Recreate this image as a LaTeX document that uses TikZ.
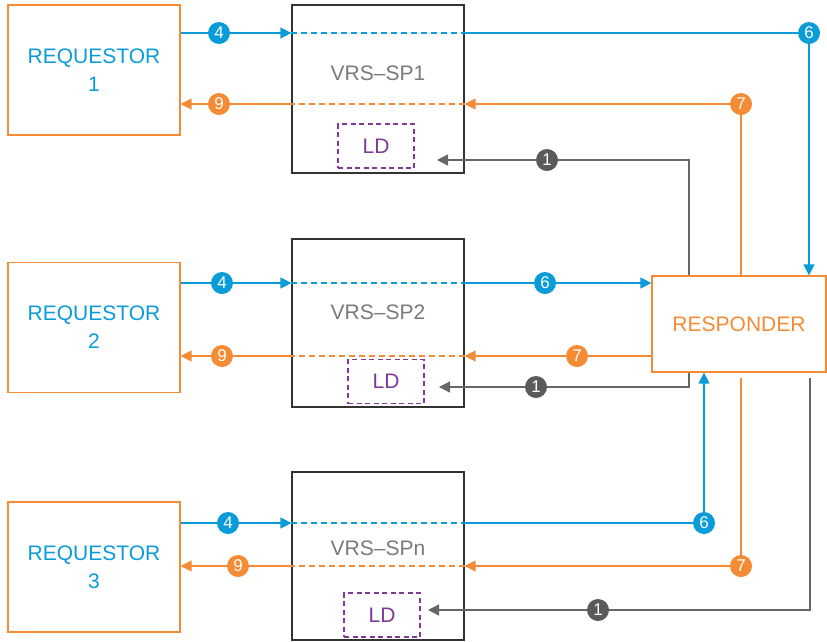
\documentclass[tikz,border=0pt]{standalone}
\usepackage{fontspec}
\setmainfont{Liberation Sans}
\usetikzlibrary{arrows.meta}
\definecolor{vblue}{HTML}{0A9BD9}
\definecolor{vorange}{HTML}{F58B34}
\definecolor{vgray}{HTML}{666666}
\definecolor{vdark}{HTML}{5A5A5A}
\definecolor{vpurple}{HTML}{7E3A96}
\definecolor{vtext}{HTML}{7A7A7A}
\tikzset{
  reqbox/.style={draw=vorange, line width=1.2pt, minimum width=172pt, minimum height=130pt,
    align=center, text=vblue, font=\fontsize{21}{28}\selectfont},
  spbox/.style={draw=black!80, line width=1.2pt, minimum width=172pt, minimum height=168pt},
  sptxt/.style={text=vtext, font=\fontsize{21}{24}\selectfont},
  ldbox/.style={draw=vpurple, line width=1.1pt, dash pattern=on 5pt off 3.5pt, minimum width=76pt,
    minimum height=44pt, text=vpurple, font=\fontsize{21}{24}\selectfont},
  respbox/.style={draw=vorange, line width=1.2pt, minimum width=174pt, minimum height=96pt,
    text=vorange, font=\fontsize{21}{26}\selectfont},
  num/.style={circle, minimum size=22pt, inner sep=0pt, text=white, font=\fontsize{17}{17}\selectfont},
  bnum/.style={num, fill=vblue},
  onum/.style={num, fill=vorange},
  gnum/.style={num, fill=vdark},
  bl/.style={draw=vblue, line width=1.3pt},
  ol/.style={draw=vorange, line width=1.3pt},
  gl/.style={draw=vgray, line width=1.3pt},
  dsh/.style={dash pattern=on 6pt off 4pt},
  tip/.style={-{Triangle[length=11pt,width=11pt]}}
}
\begin{document}
\begin{tikzpicture}[x=1pt, y=-1pt]
  \useasboundingbox (0,0) rectangle (827,641);
  \node[reqbox] (req1) at (94,70) {REQUESTOR\\1};
  \node[reqbox] (req2) at (94,327.5) {REQUESTOR\\2};
  \node[reqbox] (req3) at (94,567) {REQUESTOR\\3};
  \node[spbox] (sp1) at (378,89) {};
  \node[spbox] (sp2) at (378,323) {};
  \node[spbox] (sp3) at (378,556) {};
  \node[sptxt] (spt1) at (378,73) {VRS–SP1};
  \node[sptxt] (spt2) at (378,312) {VRS–SP2};
  \node[sptxt] (spt3) at (378,548) {VRS–SPn};
  \node[ldbox] (ld1) at (376,146) {LD};
  \node[ldbox] (ld2) at (386,381.5) {LD};
  \node[ldbox] (ld3) at (382,615) {LD};
  \node[respbox] (resp) at (739,324) {RESPONDER};
  \coordinate (rb) at ([yshift=-5pt]resp.south);
  % numbered markers
  \node[bnum] (n4a) at (219,33) {4};
  \node[onum] (n9a) at (219,104) {9};
  \node[bnum] (n6a) at (809,33) {6};
  \node[onum] (n7a) at (741,104) {7};
  \node[gnum] (n1a) at (547,160) {1};
  \node[bnum] (n4b) at (222,283) {4};
  \node[onum] (n9b) at (222,356) {9};
  \node[bnum] (n6b) at (545,283) {6};
  \node[onum] (n7b) at (577,356) {7};
  \node[gnum] (n1b) at (536,387) {1};
  \node[bnum] (n4c) at (228,523) {4};
  \node[onum] (n9c) at (238,566) {9};
  \node[bnum] (n6c) at (704,523) {6};
  \node[onum] (n7c) at (741,566) {7};
  \node[gnum] (n1c) at (598,610) {1};
  \coordinate (g1) at (689,160);
  \coordinate (g2) at (689,387);
  \coordinate (g3) at (810,610);
  \coordinate (ta1) at (437,160);
  \coordinate (ta2) at (439,387);
  \coordinate (ta3) at (428,610);
  % row 1
  \draw[bl,tip] (req1.east |- n4a) -- (n4a) -- (sp1.west |- n4a);
  \draw[bl,dsh] (sp1.west |- n4a) -- (sp1.east |- n4a);
  \draw[bl,tip] (sp1.east |- n4a) -- (n6a) -- (resp.north -| n6a);
  \draw[ol,tip] (resp.north -| n7a) -- (n7a) -- (sp1.east |- n7a);
  \draw[ol,dsh] (sp1.east |- n7a) -- (sp1.west |- n7a);
  \draw[ol,tip] (sp1.west |- n9a) -- (n9a) -- (req1.east |- n9a);
  \draw[gl,tip] (resp.north -| g1) -- (g1) -- (n1a) -- (ta1);
  % row 2
  \draw[bl,tip] (req2.east |- n4b) -- (n4b) -- (sp2.west |- n4b);
  \draw[bl,dsh] (sp2.west |- n4b) -- (sp2.east |- n4b);
  \draw[bl,tip] (sp2.east |- n6b) -- (n6b) -- (resp.west |- n6b);
  \draw[ol,tip] (resp.west |- n7b) -- (n7b) -- (sp2.east |- n7b);
  \draw[ol,dsh] (sp2.east |- n7b) -- (sp2.west |- n7b);
  \draw[ol,tip] (sp2.west |- n9b) -- (n9b) -- (req2.east |- n9b);
  \draw[gl,tip] (resp.south -| g2) -- (g2) -- (n1b) -- (ta2);
  % row 3
  \draw[bl,tip] (req3.east |- n4c) -- (n4c) -- (sp3.west |- n4c);
  \draw[bl,dsh] (sp3.west |- n4c) -- (sp3.east |- n4c);
  \draw[bl,tip] (sp3.east |- n6c) -- (n6c) -- (resp.south -| n6c);
  \draw[ol,tip] (rb -| n7c) -- (n7c) -- (sp3.east |- n7c);
  \draw[ol,dsh] (sp3.east |- n7c) -- (sp3.west |- n7c);
  \draw[ol,tip] (sp3.west |- n9c) -- (n9c) -- (req3.east |- n9c);
  \draw[gl,tip] (rb -| g3) -- (g3) -- (n1c) -- (ta3);
\end{tikzpicture}
\end{document}
